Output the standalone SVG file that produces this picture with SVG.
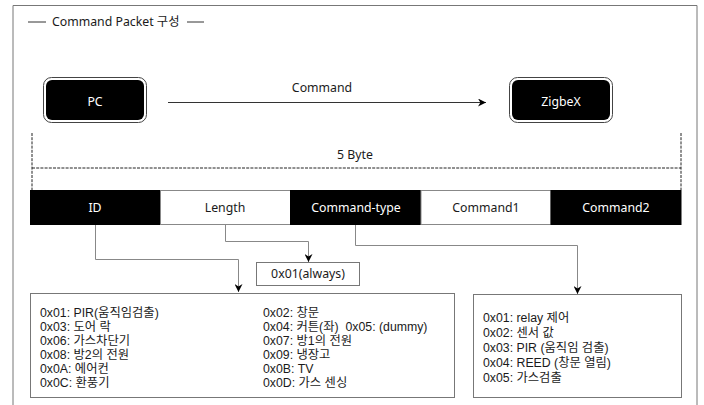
<svg xmlns="http://www.w3.org/2000/svg" width="704" height="405" viewBox="0 0 704 405">
  <style>
    text { font-family: "Noto Sans", "Noto Sans CJK KR", sans-serif; font-size: 12.3px; fill: #1a1a1a; }
    .list { font-family: "Liberation Sans", "Noto Sans CJK KR", sans-serif; font-size: 12.3px; }
    .c { text-anchor: middle; }
    .w { fill: #fff; }
    .frame { fill: none; stroke: #777; stroke-width: 1; }
    .dash { fill: none; stroke: #222; stroke-width: 1; stroke-dasharray: 3 1.2; }
    .conn { fill: none; stroke: #888; stroke-width: 1; }
    .box { fill: #fff; stroke: #777; stroke-width: 1; }
    .cellw { fill: #fff; stroke: #888; stroke-width: 1; }
    .cellb { fill: #000; stroke: #000; stroke-width: 1; }
  </style>
  <defs>
    <marker id="arr" viewBox="0 0 10 10" refX="10" refY="5" markerWidth="8" markerHeight="8" markerUnits="userSpaceOnUse" orient="auto">
      <path d="M0,0 L10,5 L0,10 L3,5 Z" fill="#000"/>
    </marker>
  </defs>

  <rect width="704" height="405" fill="#fff"/>

  <!-- outer frame and title -->
  <path class="frame" d="M13,410 V5.5 H697 V410"/>
  <line x1="28" y1="22" x2="46" y2="22" stroke="#333"/>
  <text x="52" y="26">Command Packet 구성</text>
  <line x1="187" y1="22" x2="204" y2="22" stroke="#333"/>

  <!-- endpoints -->
  <g id="pc">
    <rect x="43.5" y="77.5" width="103" height="45" rx="8" fill="#fff" stroke="#444"/>
    <rect x="46" y="80" width="98" height="40" rx="6" fill="#000"/>
    <text class="c w" x="95" y="106">PC</text>
  </g>
  <g id="zigbex">
    <rect x="509.5" y="77.5" width="103" height="45" rx="8" fill="#fff" stroke="#444"/>
    <rect x="512" y="80" width="98" height="40" rx="6" fill="#000"/>
    <text class="c w" x="561" y="106">ZigbeX</text>
  </g>

  <!-- byte span -->
  <g id="span">
    <line class="dash" x1="32" y1="133" x2="32" y2="190"/>
    <line class="dash" x1="681" y1="133" x2="681" y2="190"/>
    <line class="dash" x1="32" y1="168" x2="681" y2="168"/>
    <text class="c" x="355" y="159">5 Byte</text>
  </g>

  <!-- packet fields -->
  <g id="packet">
    <rect class="cellb" x="30.5" y="190.5" width="130" height="34"/>
    <rect class="cellw" x="160.5" y="190.5" width="130" height="34"/>
    <rect class="cellb" x="290.5" y="190.5" width="130.5" height="34"/>
    <rect class="cellw" x="421" y="190.5" width="130" height="34"/>
    <rect class="cellb" x="551" y="190.5" width="130" height="34"/>
    <text class="c w" x="95" y="212">ID</text>
    <text class="c" x="225" y="212">Length</text>
    <text class="c w" x="356" y="212">Command-type</text>
    <text class="c" x="486" y="212">Command1</text>
    <text class="c w" x="616" y="212">Command2</text>
  </g>

  <!-- value boxes -->
  <g id="length-value">
    <rect class="box" x="256.5" y="262.5" width="103" height="23"/>
    <text class="c" x="308" y="278">0x01(always)</text>
  </g>

  <g id="id-values">
    <rect class="box" x="30.5" y="293.5" width="424" height="104"/>
    <text class="list" x="40" y="317">
      <tspan x="40">0x01: PIR(움직임검출)</tspan>
      <tspan x="40" dy="14">0x03: 도어 락</tspan>
      <tspan x="40" dy="14">0x06: 가스차단기</tspan>
      <tspan x="40" dy="14">0x08: 방2의 전원</tspan>
      <tspan x="40" dy="14">0x0A: 에어컨</tspan>
      <tspan x="40" dy="14">0x0C: 환풍기</tspan>
    </text>
    <text class="list" x="263" y="317" xml:space="preserve"><tspan x="263">0x02: 창문</tspan><tspan x="263" dy="14">0x04: 커튼(좌)  0x05: (dummy)</tspan><tspan x="263" dy="14">0x07: 방1의 전원</tspan><tspan x="263" dy="14">0x09: 냉장고</tspan><tspan x="263" dy="14">0x0B: TV</tspan><tspan x="263" dy="14">0x0D: 가스 센싱</tspan></text>
  </g>

  <g id="type-values">
    <rect class="box" x="473.5" y="294.5" width="208" height="103"/>
    <text class="list" x="483" y="322">
      <tspan x="483">0x01: relay 제어</tspan>
      <tspan x="483" dy="15">0x02: 센서 값</tspan>
      <tspan x="483" dy="15">0x03: PIR (움직임 검출)</tspan>
      <tspan x="483" dy="15">0x04: REED (창문 열림)</tspan>
      <tspan x="483" dy="15">0x05: 가스검출</tspan>
    </text>
  </g>

  <!-- connectors -->
  <g id="connectors">
    <line x1="168" y1="102.5" x2="486" y2="102.5" stroke="#333" marker-end="url(#arr)"/>
    <text class="c" x="322" y="92">Command</text>
    <path class="conn" d="M95.5,225 V259.5 H238.5 V292" marker-end="url(#arr)"/>
    <path class="conn" d="M225.5,225 V241.5 H308.5 V262" marker-end="url(#arr)"/>
    <path class="conn" d="M355.5,225 V245.5 H577.5 V294" marker-end="url(#arr)"/>
  </g>
</svg>
